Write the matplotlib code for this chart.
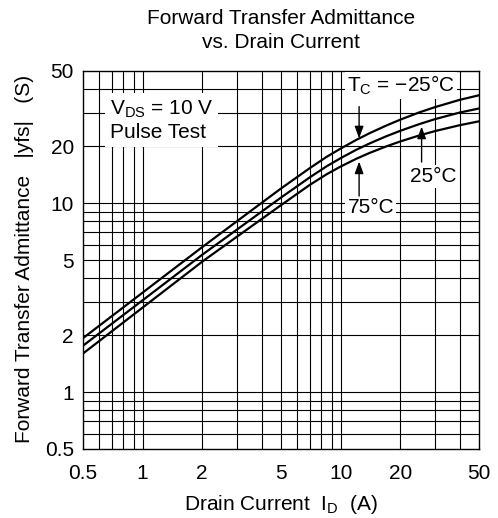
import matplotlib
matplotlib.use("Agg")
import matplotlib.pyplot as plt
from matplotlib.ticker import FixedLocator, NullFormatter

plt.rcParams["font.family"] = ["Liberation Sans", "DejaVu Sans"]
plt.rcParams["mathtext.fontset"] = "custom"
plt.rcParams["mathtext.rm"] = "Liberation Sans"
plt.rcParams["mathtext.it"] = "Liberation Sans"

# drain current (A) and |yfs| (S)
drain_current = [0.5, 1, 2, 3, 5, 7, 8.5, 10, 12, 14, 17, 20, 25, 30, 40, 50]
yfs_m25 = [1.93, 3.36, 5.85, 8.03, 11.95, 15.33, 17.57, 19.43, 21.6, 23.43,
           25.72, 27.63, 30.21, 32.2, 35.2, 37.2]
yfs_25 = [1.76, 3.06, 5.33, 7.25, 10.7, 13.7, 15.66, 17.29, 19.15, 20.68,
          22.57, 24.12, 26.19, 27.82, 30.15, 31.67]
yfs_75 = [1.60, 2.80, 4.90, 6.65, 9.75, 12.5, 14.21, 15.61, 17.16, 18.42,
          19.95, 21.19, 22.81, 24.05, 25.84, 27.08]

x_ticks = [0.5, 1, 2, 5, 10, 20, 50]
y_ticks = [0.5, 1, 2, 5, 10, 20, 50]
grid_vals = [0.6, 0.7, 0.8, 0.9, 1, 2, 3, 4, 5, 6, 7, 8, 9, 10, 20, 30, 40]

FS = 15

fig = plt.figure(figsize=(4.98, 5.18), dpi=100)
ax = fig.add_axes([83 / 498, 1 - 449 / 518, 396 / 498, 378 / 518])

ax.set_xscale("log")
ax.set_yscale("log")
ax.set_xlim(0.5, 50)
ax.set_ylim(0.5, 50)

for v in grid_vals:
    ax.axvline(v, color="black", lw=0.8, zorder=1)
    ax.axhline(v, color="black", lw=0.8, zorder=1)

for ys in (yfs_m25, yfs_25, yfs_75):
    ax.plot(drain_current, ys, color="black", lw=1.6, zorder=3,
            solid_joinstyle="round")

ax.xaxis.set_major_locator(FixedLocator(x_ticks))
ax.yaxis.set_major_locator(FixedLocator(y_ticks))
ax.xaxis.set_minor_formatter(NullFormatter())
ax.yaxis.set_minor_formatter(NullFormatter())
ax.set_xticklabels([str(t) for t in x_ticks])
ax.set_yticklabels([str(t) for t in y_ticks])
ax.tick_params(which="both", length=0, labelsize=FS)
ax.tick_params(axis="x", pad=11)
ax.tick_params(axis="y", pad=6.5)
for s in ax.spines.values():
    s.set_linewidth(1.0)
    s.set_zorder(4)

ax.set_xlabel(r"Drain Current  I$_\mathrm{D}$  (A)", fontsize=FS)
ax.xaxis.set_label_coords(0.5, -0.116)
ax.set_ylabel("Forward Transfer Admittance   |yfs|   (S)", fontsize=FS)
ax.yaxis.set_label_coords(-0.1225, 0.504)

fig.text(0.564, 0.964, "Forward Transfer Admittance", ha="center", va="center", fontsize=FS)
fig.text(0.564, 0.917, "vs. Drain Current", ha="center", va="center", fontsize=FS)

ax.text(0.685, 35.6, "V$_\\mathrm{DS}$ = 10 V\nPulse Test", fontsize=FS, ha="left", va="top",
        bbox=dict(facecolor="white", edgecolor="none", pad=3.5), zorder=5)
box = dict(facecolor="white", edgecolor="none", pad=1.5)
ax.text(20.1, 38.7, "T$_\\mathrm{C}$ = \u221225\u00b0C", fontsize=FS, ha="center", va="baseline",
        bbox=box, zorder=5)
ax.text(29.5, 12.98, "25\u00b0C", fontsize=FS, ha="center", va="baseline", bbox=box, zorder=5)
ax.text(14.2, 8.83, "75\u00b0C", fontsize=FS, ha="center", va="baseline", bbox=box, zorder=5)

arrow = dict(arrowstyle="-|>,head_length=0.6,head_width=0.22", color="black", lw=1.0,
             mutation_scale=12, shrinkA=0, shrinkB=0)
ax.annotate("", xy=(12.4, 22.0), xytext=(12.4, 32.4), arrowprops=arrow, zorder=6)
ax.annotate("", xy=(12.4, 16.6), xytext=(12.4, 10.9), arrowprops=arrow, zorder=6)
ax.annotate("", xy=(25.65, 25.4), xytext=(25.65, 16.5), arrowprops=arrow, zorder=6)

fig.savefig("out.png", dpi=100)
